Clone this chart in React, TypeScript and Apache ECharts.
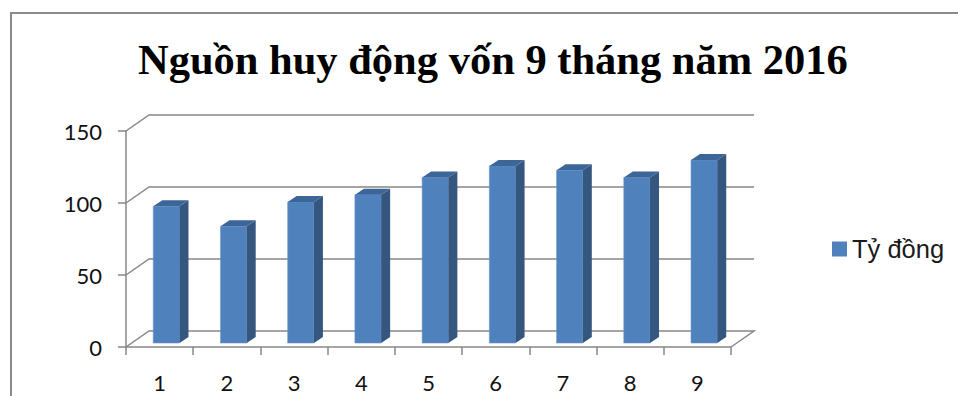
import React, { useEffect, useRef } from "react";
import * as echarts from "echarts";

const categories = ["1", "2", "3", "4", "5", "6", "7", "8", "9"];
const values = [95, 81, 98, 103, 115, 123, 120, 115, 127];
const yTicks = [0, 50, 100, 150];
const seriesName = "Tỷ đồng";
const titleText = "Nguồn huy động vốn 9 tháng năm 2016";

const DX = 23;
const DY = -16;
const LINE = "#878787";

export default function App() {
  const ref = useRef<HTMLDivElement>(null);
  useEffect(() => {
    if (!ref.current) return;
    const chart = echarts.init(ref.current, null, { renderer: "svg" });
    const option: any = {
      animation: false,
      backgroundColor: "#ffffff",
      title: {
        text: titleText,
        left: 133,
        top: 33,
        textStyle: {
          fontFamily: "Liberation Serif",
          fontWeight: "bold",
          fontSize: 42.5,
          color: "#000",
        },
      },
      graphic: [
        {
          type: "rect",
          shape: { x: 11, y: 13, width: 1000, height: 500 },
          style: { fill: null, stroke: "#8a8a8a", lineWidth: 2 },
          silent: true,
        },
      ],
      legend: {
        data: [seriesName],
        left: 827,
        top: 231,
        icon: "rect",
        itemWidth: 15,
        itemHeight: 15,
        textStyle: { fontFamily: "Liberation Sans", fontSize: 25.5, color: "#1a1a1a" },
      },
      grid: { left: 126, top: 131, width: 605, height: 216 },
      xAxis: {
        type: "category",
        data: categories,
        boundaryGap: true,
        axisLine: { show: true, lineStyle: { color: LINE, width: 1.5 } },
        axisTick: { show: true, length: 8, alignWithLabel: false, lineStyle: { color: LINE, width: 1.5 } },
        axisLabel: { margin: 24, fontFamily: "Lato", fontSize: 22, color: "#111" },
        splitLine: { show: false },
      },
      yAxis: {
        type: "value",
        min: 0,
        max: 150,
        interval: 50,
        axisLine: { show: true, lineStyle: { color: LINE, width: 1.5 } },
        axisTick: { show: true, length: 8, lineStyle: { color: LINE, width: 1.5 } },
        axisLabel: { margin: 24, fontFamily: "Lato", fontSize: 22, color: "#111" },
        splitLine: { show: false },
      },
      series: [
        {
          name: "walls",
          type: "custom",
          silent: true,
          z: 1,
          data: yTicks.map((v) => [0, v]),
          renderItem: (params: any, api: any) => {
            const v = api.value(1);
            const p0 = api.coord([0, v]);
            const band = api.size([1, 0])[0];
            const xl = p0[0] - band / 2;
            const xr = api.coord([categories.length - 1, v])[0] + band / 2;
            const y = p0[1];
            const pts: number[][] = [
              [xl, y],
              [xl + DX, y + DY],
              [xr + DX, y + DY],
            ];
            if (v === 0) pts.push([xr, y]);
            return {
              type: "polyline",
              shape: { points: pts },
              style: { stroke: LINE, lineWidth: 1.5, fill: null },
            };
          },
        },
        {
          name: seriesName,
          type: "custom",
          z: 2,
          itemStyle: { color: "#4F81BD" },
          data: values.map((v, i) => [i, v]),
          renderItem: (params: any, api: any) => {
            const idx = api.value(0);
            const v = api.value(1);
            const top = api.coord([idx, v]);
            const base = api.coord([idx, 0]);
            const band = api.size([1, 0])[0];
            const w = band * 0.39;
            const fz = 0.25;
            const cx = top[0] + DX * fz + 1;
            const yT = top[1] + DY * fz;
            const yB = base[1] + DY * fz;
            const l = cx - w / 2;
            const r = cx + w / 2;
            const bdx = 9;
            const bdy = -6;
            return {
              type: "group",
              children: [
                {
                  type: "rect",
                  shape: { x: l, y: yT, width: w, height: yB - yT },
                  style: { fill: "#4F81BD", stroke: "#6a95c9", lineWidth: 0.6 },
                },
                {
                  type: "polygon",
                  shape: {
                    points: [
                      [r, yT],
                      [r + bdx, yT + bdy],
                      [r + bdx, yB + bdy],
                      [r, yB],
                    ],
                  },
                  style: { fill: "#34567F" },
                },
                {
                  type: "polygon",
                  shape: {
                    points: [
                      [l, yT],
                      [l + bdx, yT + bdy],
                      [r + bdx, yT + bdy],
                      [r, yT],
                    ],
                  },
                  style: { fill: "#3C6598" },
                },
              ],
            };
          },
        },
      ],
    };
    chart.setOption(option);
    return () => chart.dispose();
  }, []);
  return (
    <div
      ref={ref}
      style={{ position: "fixed", left: 0, top: 0, width: 958, height: 396 }}
    />
  );
}
